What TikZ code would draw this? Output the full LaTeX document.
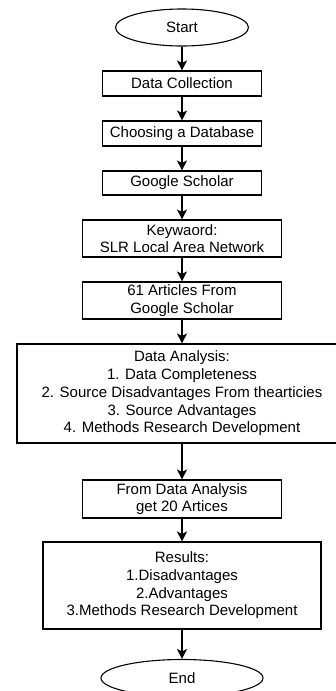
\documentclass[tikz,border=0pt]{standalone}
\usepackage{fontspec}
\setmainfont{Liberation Sans}
\usetikzlibrary{shapes.geometric,arrows.meta}
\begin{document}
\begin{tikzpicture}[x=1pt,y=-1pt, % one unit = one pixel of the drawing
    box/.style={draw,line width=1.1pt,inner sep=0pt,align=center,
      font=\fontsize{15}{17.7}\selectfont},
    oval/.style={box,ellipse},
    flow/.style={-{Stealth[length=10pt,width=10pt,inset=2.5pt]},line width=1.3pt}]
    \useasboundingbox (0,0) rectangle (336,691);

    \node[oval,minimum width=133,minimum height=37] (start) at (182,27.5) {Start};
    \node[box,minimum width=159,minimum height=25] (collect) at (182,83.5) {Data Collection};
    \node[box,minimum width=159,minimum height=25] (database) at (182,133.5) {Choosing a Database};
    \node[box,minimum width=159,minimum height=24] (scholar) at (182,183) {Google Scholar};
    \node[box,minimum width=199,minimum height=37] (keyword) at (182,238.5)
    {Keywaord:\\SLR Local Area Network};
    \node[box,minimum width=199,minimum height=37] (articles) at (182,300.5)
    {61 Articles From\\ Google Scholar};
    \node[box,minimum width=330,minimum height=99] (analysis) at (182,393.5)
    {Data Analysis:\\1. Data Completeness\\2. Source Disadvantages From thearticies\\
      3. Source Advantages\\4. Methods Research Development};
    \node[box,minimum width=199,minimum height=38] (selected) at (182,499)
    {From Data Analysis\\ get 20 Artices};
    \node[box,minimum width=278,minimum height=87] (results) at (182,585.5)
    {Results:\\1.Disadvantages\\2.Advantages\\3.Methods Research Development};
    \node[oval,minimum width=162,minimum height=37] (stop) at (182,678) {End};

    % arrows down the chain
    \draw[flow] (start) -- (collect);
    \draw[flow] (collect) -- (database);
    \draw[flow] (database) -- (scholar);
    \draw[flow] (scholar) -- (keyword);
    \draw[flow] (keyword) -- (articles);
    \draw[flow] (articles) -- (analysis);
    \draw[flow] (analysis) -- (selected);
    \draw[flow] (selected) -- (results);
    \draw[flow] (results) -- (stop);
  \end{tikzpicture}
\end{document}
